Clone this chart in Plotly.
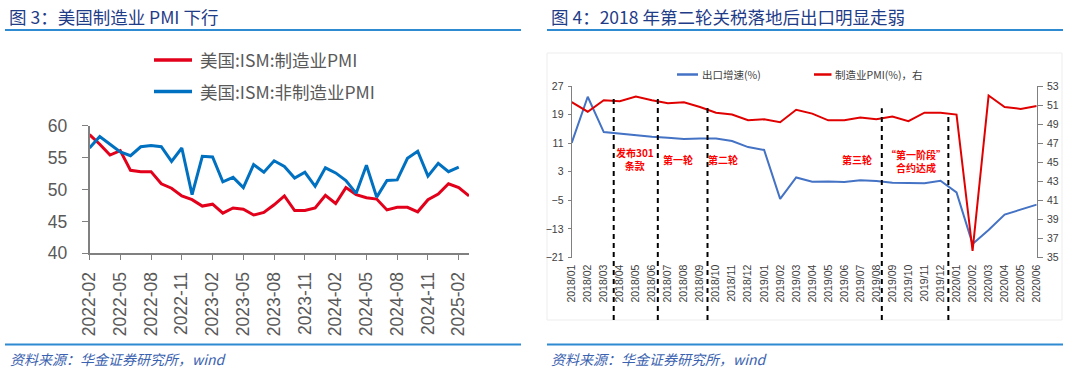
import plotly.graph_objects as go

# ---------------- Left chart data: US ISM PMI ----------------
us_months = ["2022-02","2022-03","2022-04","2022-05","2022-06","2022-07","2022-08","2022-09","2022-10","2022-11","2022-12",
             "2023-01","2023-02","2023-03","2023-04","2023-05","2023-06","2023-07","2023-08","2023-09","2023-10","2023-11","2023-12",
             "2024-01","2024-02","2024-03","2024-04","2024-05","2024-06","2024-07","2024-08","2024-09","2024-10","2024-11","2024-12",
             "2025-01","2025-02","2025-03"]
ism_mfg = [58.6,57.1,55.4,56.1,53.0,52.8,52.8,50.9,50.2,49.0,48.4,
           47.4,47.7,46.3,47.1,46.9,46.0,46.4,47.6,49.0,46.7,46.7,47.1,
           49.1,47.8,50.3,49.2,48.7,48.5,46.8,47.2,47.2,46.5,48.4,49.3,
           50.9,50.3,49.0]
ism_nonmfg = [56.5,58.3,57.1,55.9,55.3,56.7,56.9,56.7,54.4,56.5,49.2,
              55.2,55.1,51.2,51.9,50.3,53.9,52.7,54.5,53.6,51.8,52.7,50.5,
              53.4,52.6,51.4,49.4,53.8,48.8,51.4,51.5,54.9,56.0,52.1,54.1,
              52.8,53.5,None]
us_tick_labels = us_months[::3]

# ---------------- Right chart data: China exports & PMI ----------------
cn_months = ["2018/01","2018/02","2018/03","2018/04","2018/05","2018/06","2018/07","2018/08","2018/09","2018/10","2018/11","2018/12",
             "2019/01","2019/02","2019/03","2019/04","2019/05","2019/06","2019/07","2019/08","2019/09","2019/10","2019/11","2019/12",
             "2020/01","2020/02","2020/03","2020/04","2020/05","2020/06"]
export_growth = [11.1,24.0,14.1,13.6,13.1,12.8,12.5,12.2,12.3,12.3,11.6,9.9,
                 9.1,-4.6,1.4,0.2,0.3,0.1,0.6,0.4,-0.1,-0.1,-0.2,0.5,
                 -2.8,-17.2,-13.3,-9.0,-7.7,-6.2]
cn_pmi = [51.3,50.3,51.5,51.4,51.9,51.5,51.2,51.3,50.8,50.2,50.0,49.4,
          49.5,49.2,50.5,50.1,49.4,49.4,49.7,49.5,49.8,49.3,50.2,50.2,
          50.0,35.7,52.0,50.8,50.6,50.9]
# event markers (position in month-index units, top in export-growth units)
event_pos = [2.62, 5.37, 8.47, 19.34, 23.49]
event_top = [24.5, 24.2, 21.7, 20.8, 19.4]
event_labels = ["发布301<br>条款", "第一轮", "第二轮", "第三轮", "“第一阶段”<br>合约达成"]
event_label_pos = [3.96, 6.62, 9.46, 17.82, 21.48]
event_label_y = [6.6, 6.5, 6.5, 6.3, 6.0]

W, H = 1080, 374
def px(x):
    return x / W
def py(y):
    return (H - y) / H

FONT = "Liberation Sans, Arial, Noto Sans CJK SC, sans-serif"
CJK = "Noto Sans CJK SC, Liberation Sans, sans-serif"

fig = go.Figure()

# Left chart
fig.add_trace(go.Scatter(x=us_months, y=ism_mfg, mode="lines", line=dict(color="#E2001A", width=3),
                         xaxis="x", yaxis="y", showlegend=False))
fig.add_trace(go.Scatter(x=us_months, y=ism_nonmfg, mode="lines", line=dict(color="#0070C0", width=3),
                         xaxis="x", yaxis="y", showlegend=False))

# Right chart
fig.add_trace(go.Scatter(x=cn_months, y=export_growth, mode="lines", line=dict(color="#4472C4", width=2),
                         xaxis="x2", yaxis="y2", showlegend=False))
fig.add_trace(go.Scatter(x=cn_months, y=cn_pmi, mode="lines", line=dict(color="#E00000", width=2),
                         xaxis="x2", yaxis="y3", showlegend=False))

y2_dom = [py(257.5), py(86)]
y2_rng = [-21, 27]

fig.update_layout(
    width=W, height=H, margin=dict(l=0, r=0, t=0, b=0, autoexpand=False),
    paper_bgcolor="white", plot_bgcolor="rgba(0,0,0,0)",
    xaxis=dict(domain=[px(89.5), px(469)], type="category", categoryorder="array", categoryarray=us_months,
               range=[0, len(us_months) - 1], anchor="y", automargin=False,
               tickmode="array", tickvals=us_tick_labels, ticktext=us_tick_labels,
               tickangle=-90, ticks="outside", ticklen=5, tickcolor="#808080", tickwidth=1.3,
               showline=True, linecolor="#808080", linewidth=1.5, showgrid=False, zeroline=False,
               ticklabelstandoff=5,
               tickfont=dict(family=FONT, size=17.5, color="#595959")),
    yaxis=dict(domain=[py(253.3), py(125.7)], range=[40, 60], anchor="x", automargin=False,
               tickmode="array", tickvals=[40, 45, 50, 55, 60],
               ticks="outside", ticklen=6, tickcolor="#808080", tickwidth=1.3,
               showline=True, linecolor="#808080", linewidth=1.5, showgrid=False, zeroline=False,
               ticklabelstandoff=11,
               tickfont=dict(family=FONT, size=17.5, color="#595959")),
    xaxis2=dict(domain=[px(571.7), px(1036.7)], type="category", categoryorder="array", categoryarray=cn_months,
                range=[0, len(cn_months) - 1], anchor="y2", automargin=False,
                tickangle=-90, ticks="", showline=False, showgrid=False, zeroline=False,
                tickmode="array", tickvals=cn_months, ticktext=cn_months,
                ticklabelstandoff=4,
                tickfont=dict(family=FONT, size=10.5, color="#404040")),
    xaxis3=dict(domain=[px(571.7), px(1036.7)], type="category", categoryorder="array", categoryarray=cn_months,
                range=[0, len(cn_months) - 1], anchor="free", overlaying="x2", automargin=False,
                position=y2_dom[0] + (0 - y2_rng[0]) / (y2_rng[1] - y2_rng[0]) * (y2_dom[1] - y2_dom[0]),
                showticklabels=False, ticks="outside", ticklen=4, tickcolor="#808080",
                showline=True, linecolor="#808080", linewidth=1.2, showgrid=False, zeroline=False),
    yaxis2=dict(domain=y2_dom, range=y2_rng, anchor="x2", automargin=False,
                tickmode="array", tickvals=[-21, -13, -5, 3, 11, 19, 27],
                ticks="outside", ticklen=3, tickcolor="#808080",
                showline=True, linecolor="#808080", linewidth=1.2, showgrid=False, zeroline=False,
                ticklabelstandoff=2,
                tickfont=dict(family=FONT, size=10.5, color="#404040")),
    yaxis3=dict(domain=y2_dom, range=[35, 53], anchor="x2", overlaying="y2", side="right", automargin=False,
                tickmode="array", tickvals=list(range(35, 54, 2)),
                ticks="outside", ticklen=5, tickcolor="#808080",
                showline=True, linecolor="#808080", linewidth=1.2, showgrid=False, zeroline=False,
                ticklabelstandoff=2,
                tickfont=dict(family=FONT, size=10.5, color="#404040")),
)

shapes = []
annotations = []

# Title lines & footer lines
for (x0, x1) in [(5, 521), (547, 1063)]:
    shapes.append(dict(type="line", xref="paper", yref="paper", x0=px(x0), x1=px(x1), y0=py(30), y1=py(30),
                       line=dict(color="#2E8AD1", width=2)))
    shapes.append(dict(type="line", xref="paper", yref="paper", x0=px(x0), x1=px(x1), y0=py(344.5), y1=py(344.5),
                       line=dict(color="#2E8AD1", width=2)))

# Right chart faint frame
shapes.append(dict(type="rect", xref="paper", yref="paper", x0=px(547), x1=px(1062), y0=py(320), y1=py(53),
                   line=dict(color="#EDEDED", width=1), fillcolor="rgba(0,0,0,0)", layer="below"))

# Titles
annotations.append(dict(text="图 3：美国制造业 PMI 下行", xref="paper", yref="paper", x=px(7), y=py(16.5),
                        xanchor="left", yanchor="middle", showarrow=False,
                        font=dict(family=CJK, size=17.5, color="#1F3C88")))
annotations.append(dict(text="图 4：2018 年第二轮关税落地后出口明显走弱", xref="paper", yref="paper", x=px(548.5), y=py(16.5),
                        xanchor="left", yanchor="middle", showarrow=False,
                        font=dict(family=CJK, size=17.5, color="#1F3C88")))
# Footers
for x in [7.5, 548.5]:
    annotations.append(dict(text="<i>资料来源：华金证券研究所，wind</i>", xref="paper", yref="paper", x=px(x), y=py(359),
                            xanchor="left", yanchor="middle", showarrow=False,
                            font=dict(family=CJK, size=14, color="#3A62B0")))

# Left legend (manual)
for (yy, col, label) in [(60, "#E2001A", "美国:ISM:制造业PMI"), (91.5, "#0070C0", "美国:ISM:非制造业PMI")]:
    shapes.append(dict(type="line", xref="paper", yref="paper", x0=px(154), x1=px(192), y0=py(yy), y1=py(yy),
                       line=dict(color=col, width=3.5)))
    annotations.append(dict(text=label, xref="paper", yref="paper", x=px(198), y=py(yy), xanchor="left",
                            yanchor="middle", showarrow=False, font=dict(family=CJK, size=17.5, color="#595959")))

# Right legend (manual)
for (x0, x1, tx, col, label) in [(677, 698, 700, "#4472C4", "出口增速(%)"), (814, 831.5, 833, "#E00000", "制造业PMI(%)，右")]:
    shapes.append(dict(type="line", xref="paper", yref="paper", x0=px(x0), x1=px(x1), y0=py(74.5), y1=py(74.5),
                       line=dict(color=col, width=2.5)))
    annotations.append(dict(text=label, xref="paper", yref="paper", x=px(tx), y=py(74.5), xanchor="left",
                            yanchor="middle", showarrow=False, font=dict(family=CJK, size=10.5, color="#404040")))

# Event dashed lines
def y2_to_paper(v):
    return y2_dom[0] + (v - y2_rng[0]) / (y2_rng[1] - y2_rng[0]) * (y2_dom[1] - y2_dom[0])

for xpos, top in zip(event_pos, event_top):
    shapes.append(dict(type="line", xref="x2", yref="paper", x0=xpos, x1=xpos, y0=py(320), y1=y2_to_paper(top),
                       line=dict(color="#000000", width=2, dash="5px,4px")))

for lab, xpos, yv in zip(event_labels, event_label_pos, event_label_y):
    annotations.append(dict(text="<b>" + lab + "</b>", xref="x2", yref="y2", x=xpos, y=yv, xanchor="center",
                            yanchor="middle", showarrow=False, font=dict(family=CJK, size=10, color="#FF0000")))

fig.update_layout(shapes=shapes, annotations=annotations)
fig.write_html("out.html", config={"displayModeBar": False},
               post_script="document.body.style.margin='0';document.body.style.padding='0';document.body.style.overflow='hidden';")
